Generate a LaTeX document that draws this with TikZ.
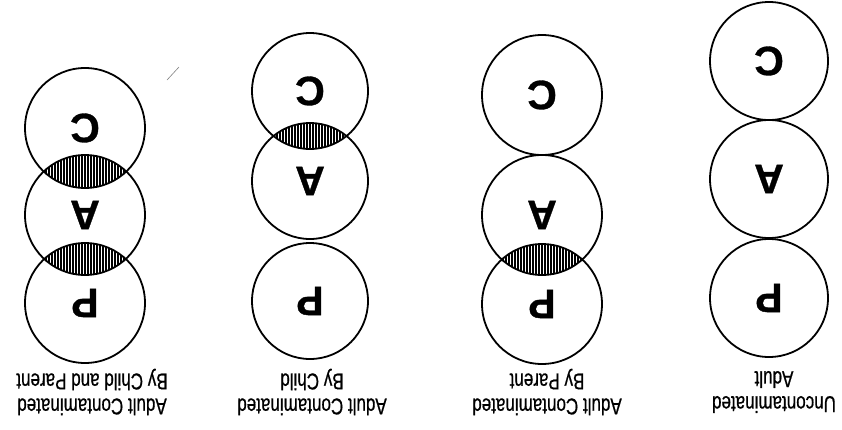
\documentclass[tikz,border=0pt]{standalone}
\usepackage{fontspec}
\setmainfont{Liberation Sans}
\newfontfamily\capfont[FakeStretch=0.74,FakeBold=0.6]{Liberation Sans}
\newfontfamily\letterfont[FakeBold=0.8]{Liberation Sans Bold}
\newcommand\hatchlens[4]{%
  \begin{scope}
    \clip (#1,#2) circle (#4pt);
    \clip (#1,#3) circle (#4pt);
    \foreach \i in {-66,-63,...,66}
      \draw[line width=1.9pt] (#1+\i,#2) -- (#1+\i,#3);
  \end{scope}}
\begin{document}
\begin{tikzpicture}[x=1pt,y=-1pt,
  ring/.style={circle,draw=black,line width=1.8pt,inner sep=0pt,
    font=\letterfont\fontsize{41}{41}\selectfont,rotate=180},
  caption/.style={font=\capfont\fontsize{23}{25}\selectfont,align=center,
    rotate=180,inner sep=0pt}]
\useasboundingbox[fill=white] (0,0) rectangle (842,429);
% hatched overlaps
\hatchlens{85}{128}{215}{60}
\hatchlens{85}{215}{303}{60}
\hatchlens{310}{91}{181}{58}
\hatchlens{542}{215}{304}{60}
% group 1
\node[ring,minimum size=120pt] (c1) at (85,128) {C};
\node[ring,minimum size=120pt] (a1) at (85,215) {A};
\node[ring,minimum size=120pt] (p1) at (85,303) {P};
\node[caption] (t1) at (92,392) {Adult Contaminated\\By Child and Parent};
% group 2
\node[ring,minimum size=116pt] (c2) at (310,91) {C};
\node[ring,minimum size=116pt] (a2) at (310,181) {A};
\node[ring,minimum size=116pt] (p2) at (310,301) {P};
\node[caption] (t2) at (312,392) {Adult Contaminated\\By Child};
% group 3
\node[ring,minimum size=120pt] (c3) at (542,95) {C};
\node[ring,minimum size=120pt] (a3) at (542,215) {A};
\node[ring,minimum size=120pt] (p3) at (542,304) {P};
\node[caption] (t3) at (547,392) {Adult Contaminated\\By Parent};
% group 4
\node[ring,minimum size=118pt] (c4) at (769,61) {C};
\node[ring,minimum size=118pt] (a4) at (769,179) {A};
\node[ring,minimum size=118pt] (p4) at (769,298) {P};
\node[caption] (t4) at (774,392) {Uncontaminated\\Adult};
% stray mark
\coordinate (s1) at (167,80);
\coordinate (s2) at (179,67);
\draw[gray,line width=0.6pt] (s1) -- (s2);
\end{tikzpicture}
\end{document}
